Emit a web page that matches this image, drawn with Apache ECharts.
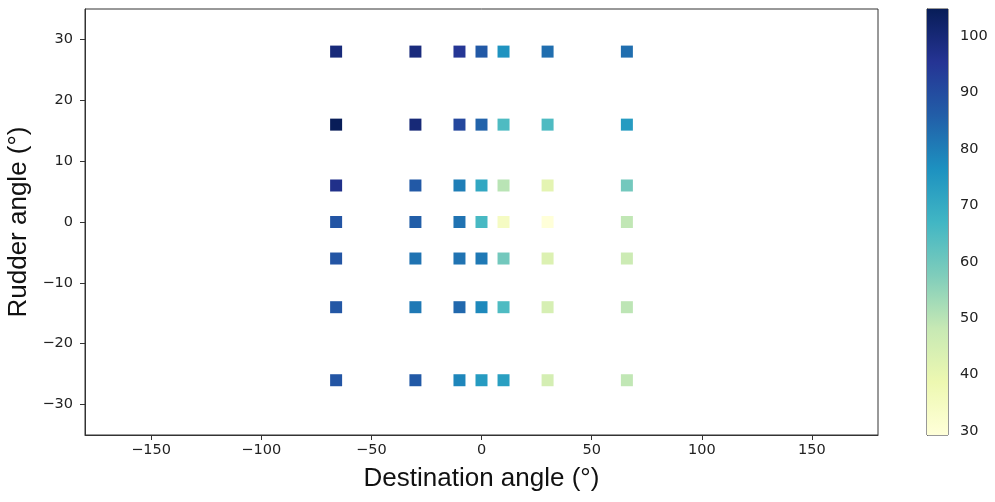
<!DOCTYPE html>
<html>
<head>
<meta charset="utf-8">
<script src="https://cdn.jsdelivr.net/npm/echarts@6/dist/echarts.min.js"></script>
<style>
  html, body { margin: 0; padding: 0; background: #fff; }
  #chart { width: 995px; height: 502px; }
</style>
</head>
<body>
<div id="chart"></div>
<script>
// Destination angles (x) and rudder angles (y) of the sampled grid
const destAngles = [-66, -30, -10, 0, 10, 30, 66];
const rudderAngles = [28, 16, 6, 0, -6, -14, -26];

// Measured value per rudder angle row, ordered like destAngles
const row28 = [99.5, 99, 95, 87, 76, 83, 83];
const row16 = [104.8, 100, 91, 85, 65, 65, 74];
const row6 = [97, 87, 80, 71, 50, 41, 59.5];
const row0 = [88, 86, 82, 66, 34.5, 29.3, 49];
const rowM6 = [88, 82, 82, 81, 59.5, 43, 47];
const rowM14 = [87.5, 81, 84, 78, 65, 44.5, 49.5];
const rowM26 = [88, 87, 78.5, 74, 73, 45, 49];
const rows = [row28, row16, row6, row0, rowM6, rowM14, rowM26];

// Axis tick values
const xTicks = [-150, -100, -50, 0, 50, 100, 150];
const yTicks = [-30, -20, -10, 0, 10, 20, 30];
const cbarTicks = [30, 40, 50, 60, 70, 80, 90, 100];
const valueMin = 29.3;
const valueMax = 104.8;

// YlGnBu colour ramp
const ylGnBu = ['#ffffd9', '#edf8b1', '#c7e9b4', '#7fcdbb', '#41b6c4',
                '#1d91c0', '#225ea8', '#253494', '#081d58'];

const points = [];
rows.forEach((vals, r) => {
  vals.forEach((v, c) => points.push([destAngles[c], rudderAngles[r], v]));
});

const textColor = '#222';
const axisFont = 'DejaVu Sans';
const tickSize = 14.5;
const minusFmt = v => v < 0 ? '\u2212' + Math.abs(v) : String(v);

const chart = echarts.init(document.getElementById('chart'), null, { renderer: 'canvas' });
chart.setOption({
  animation: false,
  backgroundColor: '#fff',
  grid: [
    { left: 85, right: 117, top: 9, bottom: 67, outerBoundsMode: 'none', containLabel: false,
      show: true, borderColor: '#333', borderWidth: 1, backgroundColor: 'transparent' },
    { left: 927, width: 21, top: 9, bottom: 67, outerBoundsMode: 'none', containLabel: false,
      show: true, borderColor: '#333', borderWidth: 1, backgroundColor: 'transparent' }
  ],
  xAxis: [
    {
      type: 'value', gridIndex: 0, min: -180, max: 180,
      name: 'Destination angle (°)', nameLocation: 'middle', nameGap: 31,
      nameTextStyle: { fontFamily: 'Liberation Sans', fontSize: 26, color: '#111' },
      axisLine: { show: true, onZero: false, lineStyle: { color: '#333' } },
      axisTick: { show: true, length: 5, customValues: xTicks, lineStyle: { color: '#333' } },
      axisLabel: { customValues: xTicks, margin: 8, fontFamily: axisFont, fontSize: tickSize, color: textColor, formatter: minusFmt },
      splitLine: { show: false }
    },
    {
      type: 'value', gridIndex: 1, min: 0, max: 1,
      axisLine: { show: false }, axisTick: { show: false }, axisLabel: { show: false }, splitLine: { show: false }
    }
  ],
  yAxis: [
    {
      type: 'value', gridIndex: 0, min: -35, max: 35,
      name: 'Rudder angle (°)', nameLocation: 'middle', nameGap: 49, nameRotate: 90,
      nameTextStyle: { fontFamily: 'Liberation Sans', fontSize: 26, color: '#111' },
      axisLine: { show: true, onZero: false, lineStyle: { color: '#333' } },
      axisTick: { show: true, length: 5, customValues: yTicks, lineStyle: { color: '#333' } },
      axisLabel: { customValues: yTicks, margin: 12, fontFamily: axisFont, fontSize: tickSize, color: textColor, formatter: minusFmt },
      splitLine: { show: false }
    },
    {
      type: 'value', gridIndex: 1, min: valueMin, max: valueMax, position: 'right',
      axisLine: { show: true, lineStyle: { color: '#333' } },
      axisTick: { show: true, length: 5, customValues: cbarTicks, lineStyle: { color: '#333' } },
      axisLabel: { customValues: cbarTicks, margin: 12, fontFamily: axisFont, fontSize: tickSize, color: textColor },
      splitLine: { show: false }
    }
  ],
  visualMap: {
    type: 'continuous', show: false, seriesIndex: 0, dimension: 2,
    min: valueMin, max: valueMax, inRange: { color: ylGnBu }
  },
  series: [
    {
      type: 'scatter', xAxisIndex: 0, yAxisIndex: 0,
      symbol: 'rect', symbolSize: 12,
      itemStyle: { opacity: 1 },
      data: points
    },
    {
      // colour bar drawn as a gradient bar on the second grid
      type: 'custom', xAxisIndex: 1, yAxisIndex: 1,
      data: [[0, valueMin, 1, valueMax]],
      renderItem: (params, api) => {
        const p0 = api.coord([api.value(0), api.value(1)]);
        const p1 = api.coord([api.value(2), api.value(3)]);
        const n = ylGnBu.length - 1;
        const stops = ylGnBu.map((c, i) => ({ offset: 1 - i / n, color: c })).reverse();
        return {
          type: 'rect',
          shape: { x: p0[0], y: p1[1], width: p1[0] - p0[0], height: p0[1] - p1[1] },
          style: { fill: new echarts.graphic.LinearGradient(0, 0, 0, 1, stops) }
        };
      },
      silent: true, z: 1
    }
  ]
});
</script>
</body>
</html>
